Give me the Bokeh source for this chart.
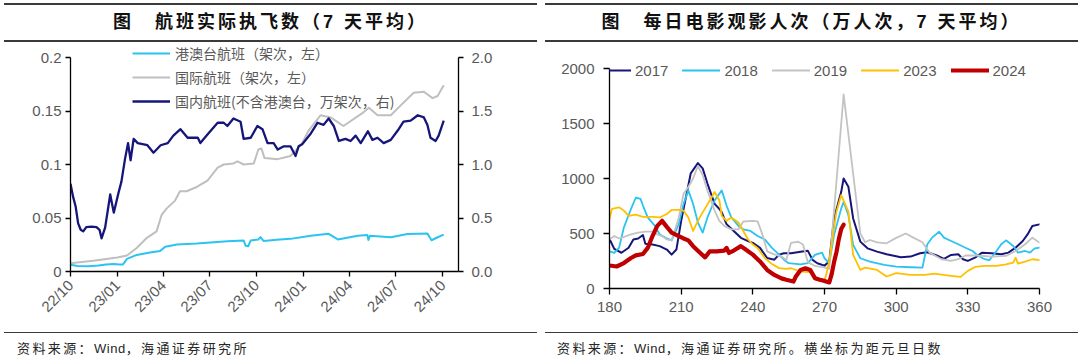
import math
import pandas as pd
from bokeh.plotting import figure
from bokeh.models import (Range1d, LinearAxis, FixedTicker, CustomJSTickFormatter,
                          Legend, LegendItem, Div)
from bokeh.layouts import row, column
from bokeh.embed import file_html
from bokeh.resources import INLINE

# ---------------- Left chart data: flights executed (7-day average) ----------------
left_title = "图\u3000航班实际执飞数（7 天平均）"
left_note = "资料来源：<span style=\"letter-spacing:0.5px\">Wind</span>，海通证券研究所"
hk_label = "港澳台航班（架次，左）"
intl_label = "国际航班（架次，左）"
dom_label = "国内航班(不含港澳台，万架次，右)"
x_tick_dates = ["2022-10-01", "2023-01-01", "2023-04-01", "2023-07-01", "2023-10-01",
                "2024-01-01", "2024-04-01", "2024-07-01", "2024-10-01"]
left_y_ticks = [0, 0.05, 0.1, 0.15, 0.2]
right_y_ticks = [0, 0.5, 1, 1.5, 2]

hk_dates = ["2022-10-01", "2022-10-15", "2022-11-05", "2022-11-25", "2022-12-10", "2022-12-25",
            "2023-01-05", "2023-01-12", "2023-01-20", "2023-02-08", "2023-03-06", "2023-03-26",
            "2023-04-05", "2023-04-28", "2023-05-17", "2023-06-06", "2023-07-03", "2023-08-05",
            "2023-09-06", "2023-09-10", "2023-09-15", "2023-09-20", "2023-10-05", "2023-10-09",
            "2023-10-15", "2023-11-10", "2023-12-07", "2024-01-16", "2024-02-20", "2024-03-09",
            "2024-04-17", "2024-05-06", "2024-05-08", "2024-05-11", "2024-06-21", "2024-07-24",
            "2024-09-01", "2024-09-09", "2024-09-21", "2024-10-03"]
hk_vals = [0.0063, 0.0052, 0.0048, 0.0055, 0.0065, 0.0070,
           0.0065, 0.0066, 0.0118, 0.0155, 0.0178, 0.0192,
           0.0232, 0.0252, 0.0258, 0.0262, 0.0272, 0.0283,
           0.0290, 0.0240, 0.0236, 0.0290, 0.0300, 0.0322,
           0.0286, 0.0296, 0.0305, 0.0335, 0.0352, 0.0300,
           0.0335, 0.0340, 0.0295, 0.0333, 0.0320, 0.0350,
           0.0356, 0.0292, 0.0320, 0.0345]

intl_dates = ["2022-10-01", "2022-11-15", "2023-01-01", "2023-01-20", "2023-02-08", "2023-02-28",
              "2023-03-19", "2023-03-29", "2023-04-08", "2023-04-24", "2023-05-04", "2023-05-17",
              "2023-06-06", "2023-06-27", "2023-07-17", "2023-07-29", "2023-08-17", "2023-08-25",
              "2023-09-06", "2023-09-26", "2023-10-05", "2023-10-11", "2023-10-17", "2023-11-12",
              "2023-12-07", "2023-12-17", "2023-12-30", "2024-01-12", "2024-02-04", "2024-02-24",
              "2024-03-20", "2024-04-29", "2024-05-09", "2024-05-26", "2024-06-21", "2024-07-10",
              "2024-08-05", "2024-08-25", "2024-09-11", "2024-09-21", "2024-10-03"]
intl_vals = [0.0078, 0.0100, 0.0130, 0.0150, 0.0220, 0.0315,
             0.0375, 0.0530, 0.0590, 0.0660, 0.0750, 0.0750,
             0.0790, 0.0850, 0.0970, 0.1000, 0.1010, 0.1030,
             0.1000, 0.1010, 0.1140, 0.1150, 0.1060, 0.1050,
             0.1080, 0.1130, 0.1200, 0.1320, 0.1460, 0.1440,
             0.1360, 0.1490, 0.1530, 0.1460, 0.1460, 0.1550,
             0.1670, 0.1680, 0.1620, 0.1640, 0.1740]

dom_dates = ["2022-10-01", "2022-10-06", "2022-10-11", "2022-10-16", "2022-10-21", "2022-10-26",
             "2022-11-01", "2022-11-11", "2022-11-21", "2022-11-27", "2022-12-01", "2022-12-08",
             "2022-12-18", "2022-12-25", "2023-01-03", "2023-01-09", "2023-01-16", "2023-01-22",
             "2023-01-27", "2023-02-02", "2023-02-10", "2023-03-01", "2023-03-13", "2023-03-27",
             "2023-04-10", "2023-04-21", "2023-05-05", "2023-05-19", "2023-06-08", "2023-06-13",
             "2023-06-27", "2023-07-17", "2023-07-29", "2023-08-05", "2023-08-17", "2023-08-31",
             "2023-09-06", "2023-09-20", "2023-10-03", "2023-10-13", "2023-10-23", "2023-11-04",
             "2023-11-12", "2023-11-24", "2023-12-07", "2023-12-17", "2023-12-23", "2023-12-30",
             "2024-01-16", "2024-01-29", "2024-02-10", "2024-02-20", "2024-03-01", "2024-03-11",
             "2024-03-24", "2024-04-03", "2024-04-13", "2024-04-23", "2024-05-07", "2024-05-16",
             "2024-05-26", "2024-06-07", "2024-06-21", "2024-07-05", "2024-07-16", "2024-07-30",
             "2024-08-13", "2024-08-25", "2024-09-01", "2024-09-07", "2024-09-17", "2024-09-23",
             "2024-10-03"]
dom_vals = [0.82, 0.70, 0.61, 0.45, 0.39, 0.375,
            0.415, 0.42, 0.415, 0.39, 0.31, 0.41,
            0.72, 0.55, 0.73, 0.84, 1.05, 1.20,
            1.04, 1.24, 1.20, 1.18, 1.11, 1.18,
            1.20, 1.27, 1.33, 1.25, 1.25, 1.20,
            1.28, 1.39, 1.39, 1.36, 1.43, 1.40,
            1.24, 1.25, 1.36, 1.33, 1.20, 1.20,
            1.14, 1.17, 1.17, 1.08, 1.17, 1.19,
            1.29, 1.39, 1.37, 1.43, 1.36, 1.22,
            1.24, 1.22, 1.27, 1.20, 1.31, 1.23,
            1.25, 1.20, 1.23, 1.32, 1.40, 1.41,
            1.46, 1.44, 1.37, 1.25, 1.22, 1.27,
            1.41]

# ---------------- Right chart data: daily cinema admissions ----------------
right_title = "图\u3000每日电影观影人次（万人次，7 天平均）"
right_note = "资料来源：<span style=\"letter-spacing:0.5px\">Wind</span>，海通证券研究所。横坐标为距元旦日数"
x2_ticks = [180, 210, 240, 270, 300, 330, 360]
y2_ticks = [0, 500, 1000, 1500, 2000]

d2017 = [180, 182, 185, 188, 190, 192, 194, 195, 198, 201, 204, 206, 208, 210, 212, 214, 217, 219,
         221, 224, 226, 227, 229, 232, 235, 238, 240, 243, 246, 249, 251, 253, 256, 260, 263, 265,
         267, 270, 272, 274, 277, 278, 280, 282, 285, 288, 292, 296, 302, 306, 310, 313, 317, 320,
         323, 326, 328, 330, 333, 336, 340, 344, 347, 350, 353, 355, 357, 360]
v2017 = [450, 360, 325, 370, 446, 455, 486, 406, 400, 385, 354, 308, 354, 615, 831, 1046, 1140, 1092,
         954, 769, 723, 692, 585, 523, 461, 431, 415, 369, 277, 262, 308, 320, 320, 335, 344, 260,
         230, 208, 245, 637, 879, 1000, 924, 637, 426, 365, 335, 311, 284, 290, 320, 330, 300, 270,
         305, 311, 266, 251, 281, 326, 320, 311, 326, 371, 432, 492, 568, 583]

d2018 = [180, 182, 184, 186, 189, 191, 193, 194, 196, 199, 201, 204, 206, 209, 211, 213, 215, 217,
         219, 221, 224, 227, 229, 231, 234, 236, 239, 242, 245, 248, 251, 253, 255, 260, 263, 266,
         269, 270, 272, 274, 277, 278, 280, 282, 285, 289, 295, 300, 306, 311, 313, 315, 318, 320,
         323, 326, 329, 332, 334, 337, 339, 342, 344, 346, 349, 351, 354, 356, 358, 360]
v2018 = [338, 323, 369, 554, 723, 825, 815, 754, 646, 569, 492, 455, 437, 585, 769, 892, 769, 600,
         508, 646, 800, 892, 754, 646, 569, 538, 523, 477, 446, 369, 308, 262, 230, 220, 230, 305,
         326, 275, 230, 486, 728, 788, 667, 396, 275, 245, 214, 199, 193, 190, 400, 462, 516, 462,
         432, 402, 371, 341, 302, 266, 257, 341, 402, 438, 387, 326, 341, 326, 365, 371]

d2019 = [180, 182, 184, 186, 189, 192, 195, 198, 200, 202, 204, 206, 209, 211, 213, 215, 217, 219,
         221, 224, 226, 228, 231, 234, 236, 240, 242, 244, 246, 249, 252, 254, 256, 259, 261, 263,
         266, 270, 272, 278, 285, 287, 289, 292, 296, 300, 304, 307, 311, 314, 319, 323, 326, 329,
         334, 340, 346, 350, 354, 357, 359, 360]
v2019 = [446, 477, 455, 468, 492, 508, 517, 517, 492, 477, 446, 437, 646, 862, 923, 1000, 1114, 1031,
         892, 708, 615, 569, 538, 538, 609, 615, 610, 492, 338, 310, 290, 260, 415, 425, 400, 240,
         205, 190, 180, 1764, 500, 420, 441, 420, 411, 460, 500, 465, 420, 326, 266, 251, 266, 300,
         300, 290, 296, 341, 402, 462, 432, 417]

d2023 = [180, 181, 184, 186, 188, 191, 194, 198, 201, 204, 206, 209, 211, 213, 215, 217, 219, 222,
         224, 226, 227, 229, 231, 234, 236, 238, 240, 242, 245, 248, 251, 254, 256, 260, 264, 267,
         270, 272, 275, 277, 280, 282, 285, 287, 292, 296, 300, 306, 312, 316, 322, 327, 330, 333,
         337, 342, 346, 349, 350, 351, 354, 357, 360]
v2023 = [631, 723, 738, 708, 661, 671, 652, 652, 646, 677, 714, 714, 708, 646, 523, 615, 692, 800,
         877, 800, 661, 615, 646, 600, 523, 446, 400, 369, 277, 222, 185, 179, 184, 154, 148, 94,
         63, 245, 698, 849, 698, 305, 169, 190, 169, 109, 139, 124, 124, 135, 118, 106, 160, 196,
         205, 205, 220, 236, 281, 226, 245, 266, 257]

d2024 = [180, 183, 186, 189, 191, 194, 196, 198, 200, 202, 204, 206, 209, 211, 213, 215, 218, 220,
         222, 225, 228, 229, 230, 232, 235, 237, 240, 243, 246, 249, 252, 254, 257, 258, 260, 262,
         264, 266, 268, 270, 272, 273, 274, 275, 276, 277, 278]
v2024 = [209, 200, 231, 277, 301, 314, 369, 477, 569, 615, 560, 508, 477, 455, 437, 385, 323, 283,
         338, 338, 345, 369, 323, 345, 385, 354, 308, 246, 169, 123, 92, 79, 63, 109, 169, 184,
         169, 94, 79, 69, 55, 130, 240, 330, 450, 540, 580]

# ---------------- styling helpers ----------------
TICK_COLOR = "#595959"
NUM_FONT = "Liberation Sans"
CJK_FONT = "Noto Sans CJK SC"
COL_W = 540
TITLE_H = 43
FIG_H = 289
NOTE_H = 25


def ms(s):
    return pd.Timestamp(s).value / 1e6


def style_axis(ax, standoff=6, tick_out=5):
    ax.axis_line_color = "black"
    ax.axis_line_width = 1.3
    ax.major_tick_line_color = "black"
    ax.major_tick_line_width = 1.3
    ax.major_tick_in = 0
    ax.major_tick_out = tick_out
    ax.minor_tick_line_color = None
    ax.major_label_text_font = NUM_FONT
    ax.major_label_text_font_size = "15px"
    ax.major_label_text_color = TICK_COLOR
    ax.major_label_standoff = standoff


def title_div(text, ml, mr):
    html = ('<div style="box-sizing:border-box;width:%dpx;height:39px;margin-left:%dpx;margin-top:3px;'
            'border-top:2px solid #3a3a3a;border-bottom:2px solid #3a3a3a;display:flex;'
            'align-items:center;justify-content:center;white-space:nowrap;'
            "font-family:'Liberation Sans','Noto Sans CJK SC',sans-serif;font-size:18px;"
            'font-weight:bold;letter-spacing:3px;color:#111;">%s</div>') % (COL_W - ml - mr, ml, text)
    return Div(text=html, width=COL_W, height=TITLE_H, margin=0)


def note_div(text, ml, mr, pad):
    html = ('<div style="box-sizing:border-box;width:%dpx;height:%dpx;margin-left:%dpx;'
            'border-top:1.5px solid #3a3a3a;padding-left:%dpx;padding-top:8px;white-space:nowrap;'
            "font-family:'Liberation Sans','Noto Sans CJK SC',sans-serif;font-size:13px;"
            'line-height:16px;letter-spacing:2.4px;color:#262626;">%s</div>') % (COL_W - ml - mr, NOTE_H, ml, pad, text)
    return Div(text=html, width=COL_W, height=NOTE_H, margin=0)


# ---------------- Left figure ----------------
# frame spans page y 43..271; value 0.2 sits at y=57 (axis bounds stop there)
L_TOP_FRAC = 228.0 / 214.0
pL = figure(width=COL_W, height=FIG_H, output_backend="svg", toolbar_location=None,
            x_axis_type="datetime",
            x_range=Range1d(ms("2022-10-01"), ms("2024-11-01")),
            y_range=Range1d(0, left_y_ticks[-1] * L_TOP_FRAC),
            min_border_left=70, min_border_right=82, min_border_top=0, min_border_bottom=61)
pL.outline_line_color = None
pL.grid.visible = False
pL.extra_y_ranges = {"right": Range1d(0, right_y_ticks[-1] * L_TOP_FRAC)}

pL.xaxis.ticker = FixedTicker(ticks=[ms(d) for d in x_tick_dates])
pL.xaxis.formatter = CustomJSTickFormatter(code="""
const d = new Date(tick);
const y = String(d.getUTCFullYear()).slice(2);
const m = String(d.getUTCMonth() + 1).padStart(2, '0');
return y + '/' + m;
""")
pL.xaxis.major_label_orientation = math.pi / 4
pL.yaxis.ticker = FixedTicker(ticks=left_y_ticks)
pL.yaxis.formatter = CustomJSTickFormatter(code="return String(Math.round(tick * 100) / 100);")
pL.yaxis.bounds = (left_y_ticks[0], left_y_ticks[-1])
for ax in pL.xaxis:
    style_axis(ax, standoff=6)
for ax in pL.yaxis:
    style_axis(ax, standoff=4)

ax_r = LinearAxis(y_range_name="right", ticker=FixedTicker(ticks=right_y_ticks),
                  formatter=CustomJSTickFormatter(code="return tick.toFixed(1);"),
                  bounds=(right_y_ticks[0], right_y_ticks[-1]))
style_axis(ax_r, standoff=8)
pL.add_layout(ax_r, "right")

r_hk = pL.line(pd.to_datetime(hk_dates), hk_vals, line_color="#2BC3F0", line_width=2,
               line_join="round")
r_intl = pL.line(pd.to_datetime(intl_dates), intl_vals, line_color="#BFBFBF", line_width=2,
                 line_join="round")
r_dom = pL.line(pd.to_datetime(dom_dates), dom_vals, line_color="#16167A", line_width=2.3,
                line_join="round", y_range_name="right")

legL = Legend(items=[LegendItem(label=hk_label, renderers=[r_hk]),
                     LegendItem(label=intl_label, renderers=[r_intl]),
                     LegendItem(label=dom_label, renderers=[r_dom])],
              location=(62, 160), orientation="vertical",
              glyph_width=38, glyph_height=20, label_height=20, spacing=4, label_standoff=5,
              padding=0, margin=0, border_line_color=None, background_fill_alpha=0,
              label_text_font=CJK_FONT, label_text_font_size="14px",
              label_text_color=TICK_COLOR)
pL.add_layout(legL, "center")

# ---------------- Right figure ----------------
# frame spans page y 52..288; value 2000 sits at y=68
R_TOP_FRAC = 236.0 / 220.0
pR = figure(width=COL_W, height=FIG_H, output_backend="svg", toolbar_location=None,
            x_range=Range1d(x2_ticks[0], x2_ticks[-1]),
            y_range=Range1d(0, y2_ticks[-1] * R_TOP_FRAC),
            min_border_left=69, min_border_right=41, min_border_top=9, min_border_bottom=44)
pR.outline_line_color = None
pR.grid.visible = False
pR.xaxis.ticker = FixedTicker(ticks=x2_ticks)
pR.yaxis.ticker = FixedTicker(ticks=y2_ticks)
pR.yaxis.bounds = (y2_ticks[0], y2_ticks[-1])
for ax in pR.xaxis:
    style_axis(ax, standoff=7, tick_out=6)
for ax in pR.yaxis:
    style_axis(ax, standoff=9, tick_out=6)

series = [("2017", d2017, v2017, "#16167A", 2.0),
          ("2018", d2018, v2018, "#2BC3F0", 1.8),
          ("2019", d2019, v2019, "#C3C3C3", 1.8),
          ("2023", d2023, v2023, "#FFC000", 1.8),
          ("2024", d2024, v2024, "#C00000", 4.2)]
items = []
for name, dx, dy, col, lw in series:
    r = pR.line(dx, dy, line_color=col, line_width=lw, line_join="round", line_cap="round")
    items.append(LegendItem(label=name, renderers=[r]))

legR = Legend(items=items, location=(-16, 208), orientation="horizontal",
              glyph_width=38, glyph_height=20, label_height=20, spacing=14, label_standoff=4,
              padding=0, margin=0, border_line_color=None, background_fill_alpha=0,
              label_text_font=NUM_FONT, label_text_font_size="15px",
              label_text_color=TICK_COLOR)
pR.add_layout(legR, "center")

# ---------------- layout ----------------
left_col = column(title_div(left_title, 4, 3), pL, note_div(left_note, 4, 3, 13), spacing=0)
right_col = column(title_div(right_title, 5, 2), pR, note_div(right_note, 5, 2, 12), spacing=0)
p = row(left_col, right_col, spacing=0)

open("out.html", "w").write(file_html(p, INLINE))
